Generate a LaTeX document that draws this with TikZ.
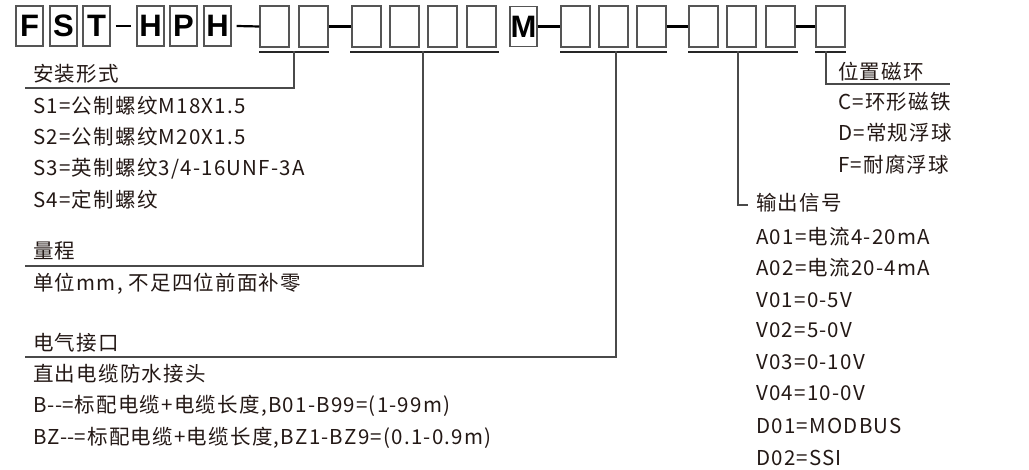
\documentclass[tikz,border=0pt]{standalone}
\usepackage{fontspec}
\setmainfont{Noto Sans CJK SC}[LetterSpace=6]
\newfontfamily\boxfont{Liberation Sans}
\usetikzlibrary{calc}
\definecolor{ink}{HTML}{231815}
\definecolor{edge}{HTML}{555555}
\definecolor{conncol}{HTML}{4a4a4a}
\newcommand{\hy}{\kern0pt-\kern0pt}
\begin{document}
\begin{tikzpicture}[x=1pt,y=-1pt,
  font=\fontsize{20.5}{24}\selectfont,
  lbox/.style={draw=edge,line width=1.3pt,minimum width=27pt,minimum height=40pt,inner sep=0pt,
     font=\boxfont\bfseries\fontsize{31}{31}\selectfont,text=black},
  cell/.style={draw=edge,line width=1.3pt,minimum width=29pt,minimum height=41pt,inner sep=0pt},
  joinline/.style={draw=black,line width=2.2pt},
  dashline/.style={draw=black,line width=1.4pt},
  uline/.style={draw=black!85,line width=1.8pt},
  conn/.style={draw=conncol,line width=1.3pt},
  txt/.style={anchor=base west,inner sep=0pt,text=ink}]
\useasboundingbox (0,0) rectangle (1029,470);
% letter boxes
\node[lbox] (F) at (29.5,26) {F};
\node[lbox] (S) at (63.5,26) {S};
\node[lbox] (T) at (96.5,26) {T};
\node[lbox] (H1) at (150.5,26) {H};
\node[lbox] (P) at (183.5,26) {P};
\node[lbox] (H2) at (217.5,26) {H};
\node[lbox] (M) at (523.5,26.5) {M};
% empty cells
\node[cell] (a1) at (274.5,26.5) {};
\node[cell] (a2) at (313.5,26.5) {};
\node[cell] (b1) at (366.5,26.5) {};
\node[cell] (b2) at (404.5,26.5) {};
\node[cell] (b3) at (442.5,26.5) {};
\node[cell] (b4) at (481.5,26.5) {};
\node[cell] (c1) at (575.5,26.5) {};
\node[cell] (c2) at (613.5,26.5) {};
\node[cell] (c3) at (651.5,26.5) {};
\node[cell] (d1) at (703.5,26.5) {};
\node[cell] (d2) at (741.5,26.5) {};
\node[cell] (d3) at (780.5,26.5) {};
\node[cell] (e1) at (830.5,26.5) {};
% joining lines
\draw[dashline] ([xshift=5pt]T.east) -- ([xshift=-5pt]H1.west);
\draw[joinline] ([xshift=5pt]H2.east) -- (a1.west);
\draw[joinline] (a2.east) -- (b1.west);
\draw[joinline] (M.east) -- (c1.west);
\draw[joinline] (c3.east) -- (d1.west);
\draw[joinline] (d3.east) -- (e1.west);
% group underlines
\draw[uline] ([yshift=-4.5pt]a1.south west) -- ([yshift=-4.5pt]a2.south east);
\draw[uline] ([yshift=-4.5pt,xshift=-1pt]b1.south west) -- ([yshift=-4.5pt,xshift=2pt]b4.south east);
\draw[uline] ([yshift=-4.5pt]c1.south west) -- ([yshift=-4.5pt]c3.south east);
\draw[uline] ([yshift=-4.5pt]d1.south west) -- ([yshift=-4.5pt,xshift=2pt]d3.south east);
\draw[uline] ([yshift=-4.5pt]e1.south west) -- ([yshift=-4.5pt]e1.south east);
% connectors
\coordinate (u1) at (294,51.5);  \coordinate (k1) at (25,88);
\coordinate (u2) at (423,51.5);  \coordinate (k2) at (25,266);
\coordinate (u3) at (616,51.5);  \coordinate (k3) at (25,357);
\coordinate (u4) at (738,51.5);  \coordinate (k4) at (748,205);
\coordinate (u5) at (826,51.5);  \coordinate (k5) at (950,84);
\draw[conn] (u1) |- (k1);
\draw[conn] (u2) |- (k2);
\draw[conn] (u3) |- (k3);
\draw[conn] (u4) |- (k4);
\draw[conn] (u5) |- (k5);
% left column texts
\node[txt] (t1) at (33,82) {安装形式};
\node[txt] (t2) at (33,114) {S1=公制螺纹M18X1.5};
\node[txt] (t3) at (33,145) {S2=公制螺纹M20X1.5};
\node[txt] (t4) at (33,176) {S3=英制螺纹3/4-16UNF-3A};
\node[txt] (t5) at (33,208) {S4=定制螺纹};
\node[txt] (t6) at (33,259) {量程};
\node[txt] (t7) at (33,291) {单位mm, 不足四位前面补零};
\node[txt] (t8) at (33,351) {电气接口};
\node[txt] (t9) at (33,382) {直出电缆防水接头};
\node[txt] (t10) at (33,413) {B-\hy=标配电缆+电缆长度,B01-B99=(1-99m)};
\node[txt] (t11) at (33,445) {BZ-\hy=标配电缆+电缆长度,BZ1-BZ9=(0.1-0.9m)};
% right column texts
\node[txt] (r1) at (838,80) {位置磁环};
\node[txt] (r2) at (838,110) {C=环形磁铁};
\node[txt] (r3) at (838,141) {D=常规浮球};
\node[txt] (r4) at (838,173) {F=耐腐浮球};
\node[txt] (s0) at (756,211) {输出信号};
\node[txt] (s1) at (756,245) {A01=电流4-20mA};
\node[txt] (s2) at (756,276) {A02=电流20-4mA};
\node[txt] (s3) at (756,308) {V01=0-5V};
\node[txt] (s4) at (756,338) {V02=5-0V};
\node[txt] (s5) at (756,370) {V03=0-10V};
\node[txt] (s6) at (756,401) {V04=10-0V};
\node[txt] (s7) at (756,434) {D01=MODBUS};
\node[txt] (s8) at (756,465) {D02=SSI};
\end{tikzpicture}
\end{document}
